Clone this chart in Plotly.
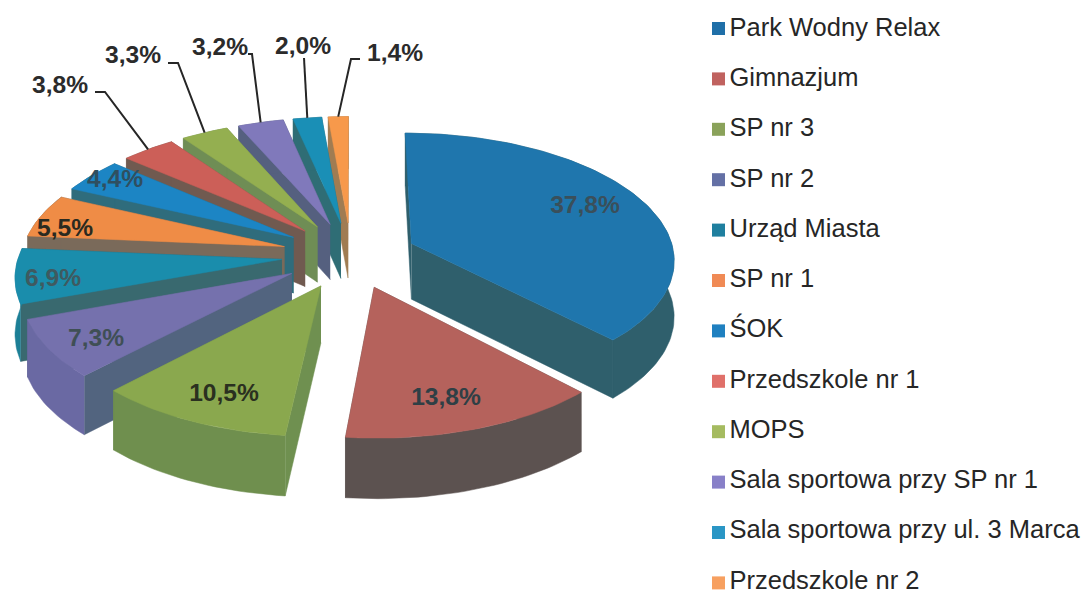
import numpy as np
import plotly.graph_objects as go

# ---- data -------------------------------------------------------------
categories = ["Park Wodny Relax", "Gimnazjum", "SP nr 3", "SP nr 2", "Urząd Miasta", "SP nr 1",
              "ŚOK", "Przedszkole nr 1", "MOPS", "Sala sportowa przy SP nr 1",
              "Sala sportowa przy ul. 3 Marca", "Przedszkole nr 2"]
values = [37.8, 13.8, 10.5, 7.3, 6.9, 5.5, 4.4, 3.8, 3.3, 3.2, 2.0, 1.4]
value_labels = ["37,8%", "13,8%", "10,5%", "7,3%", "6,9%", "5,5%", "4,4%", "3,8%", "3,3%", "3,2%", "2,0%", "1,4%"]

# ---- styles -----------------------------------------------------------
top_colors = ["#1f76ad", "#b5625c", "#8aa84e", "#7571ad", "#1a8dac", "#ef8c46",
              "#1c85c4", "#cc5f58", "#94af50", "#8079bb", "#1a8fb6", "#f7994b"]
radial_colors = ["#2f5f6c", "#5c5250", "#6f9050", "#52647f", "#39696f", "#7a6a5a",
                 "#2f6c7c", "#705a50", "#6f8d55", "#55607f", "#2f6d75", "#a07c52"]
rim_colors = ["#2f5f6c", "#5c5250", "#6f8f4e", "#6a69a3", "#1c7f96", "#7a6a5a",
              "#2f6c7c", "#705a50", "#6f8d55", "#55607f", "#2f6d75", "#a07c52"]
legend_colors = ["#1f6fa8", "#c0625f", "#8aa25a", "#6470a5", "#1f7f9f", "#f08a55",
                 "#1f80c0", "#e0706a", "#a5bb60", "#8880c8", "#2a96c5", "#f7a060"]
label_colors = ["#3a4f5a", "#2f3f45", "#2a3020", "#3f4f55", "#3f5a60", "#2a2a20",
                "#2f4f60", "#2b2b2b", "#2b2b2b", "#2b2b2b", "#2b2b2b", "#2b2b2b"]
label_x = [585, 446, 224, 96, 53, 65, 115, 60, 133, 220, 303, 395]
label_y = [207, 399, 395, 340, 280, 230, 181, 87, 57, 49, 48, 55]
explode = [0.25] + [0.264] * 11
# elbow of the leader lines for the small outer labels: (start, bend)
leaders = {7: ((95, 92), (105, 92)), 8: ((168, 63), (178, 63)), 9: ((248, 54), (252, 54)),
           10: ((304, 58), (304, 58)), 11: ((360, 59), (351, 59))}

# ---- pie projection ---------------------------------------------------
CX, CY, RX, RY, PERSP, DEPTH = 351, 255, 263, 125.5, 0.115, 56


def project(X, Y, down=0.0):
    s = 1 / (1 + PERSP * Y)
    return CX + RX * X * s, CY - RY * Y * s + DEPTH * down * np.sqrt(s)


fractions = np.array(values) / sum(values)
edges = np.concatenate([[0], np.cumsum(fractions)]) * 2 * np.pi
mids = (edges[:-1] + edges[1:]) / 2
off_x, off_y = np.array(explode) * np.sin(mids), np.array(explode) * np.cos(mids)

fig = go.Figure()


def poly(xs, ys, color):
    fig.add_trace(go.Scatter(x=xs, y=ys, mode="lines", fill="toself", fillcolor=color,
                             line=dict(color=color, width=0.5), hoverinfo="skip", showlegend=False))


for i in np.argsort(-off_y):
    a0, a1 = edges[i], edges[i + 1]
    th = np.linspace(a0, a1, max(6, int((a1 - a0) * 40)))
    ox, oy = off_x[i], off_y[i]
    arcX, arcY = ox + np.sin(th), oy + np.cos(th)
    # radial walls
    for a in (a1, a0):
        ex, ey = ox + np.sin(a), oy + np.cos(a)
        px = [project(ox, oy, 0), project(ex, ey, 0), project(ex, ey, 1), project(ox, oy, 1)]
        poly([p[0] for p in px], [p[1] for p in px], radial_colors[i])
    # outer wall
    tx, ty = project(arcX, arcY, 0)
    bx, by = project(arcX, arcY, 1)
    poly(np.concatenate([tx, bx[::-1]]), np.concatenate([ty, by[::-1]]), rim_colors[i])
    # top surface
    ax, ay = project(ox, oy, 0)
    poly(np.concatenate([[ax], tx, [ax]]), np.concatenate([[ay], ty, [ay]]), top_colors[i])

# leader lines
for i, (start, bend) in leaders.items():
    ex, ey = project(off_x[i] + np.sin(mids[i]), off_y[i] + np.cos(mids[i]), 0)
    fig.add_trace(go.Scatter(x=[start[0], bend[0], ex], y=[start[1], bend[1], ey], mode="lines",
                             line=dict(color="#262626", width=2), hoverinfo="skip", showlegend=False))

# data labels
fig.add_trace(go.Scatter(x=label_x, y=label_y, mode="text", text=value_labels, textposition="middle center",
                         textfont=dict(family="Liberation Sans", size=24.6, color=label_colors, weight="bold"),
                         hoverinfo="skip", showlegend=False))

# legend column: one marker entry and one text entry per category
LEG_X, LEG_TEXT_X, LEG_Y0, LEG_STEP = 718.5, 729.5, 28.5, 50.4
LEG_TEXT_Y0, LEG_TEXT_STEP = 29.5, 50.25
for k, (name, color) in enumerate(zip(categories, legend_colors)):
    fig.add_trace(go.Scatter(x=[LEG_X], y=[LEG_Y0 + LEG_STEP * k], mode="markers", name=name,
                             marker=dict(symbol="square", size=13, color=color),
                             hoverinfo="skip", showlegend=False))
    fig.add_trace(go.Scatter(x=[LEG_TEXT_X], y=[LEG_TEXT_Y0 + LEG_TEXT_STEP * k], mode="text", name=name,
                             text=[name], textposition="middle right",
                             textfont=dict(family="Liberation Sans", size=25.5, color="#262626"),
                             hoverinfo="skip", showlegend=False, cliponaxis=False))

fig.update_layout(
    width=1083, height=594, autosize=False,
    margin=dict(l=0, r=0, t=0, b=0),
    paper_bgcolor="white", plot_bgcolor="white",
    xaxis=dict(visible=False, range=[0, 1083], fixedrange=True),
    yaxis=dict(visible=False, range=[594, 0], fixedrange=True),
    showlegend=False,
)
fig.write_html("out.html", config=dict(displayModeBar=False),
               post_script="document.body.style.margin='0';")
